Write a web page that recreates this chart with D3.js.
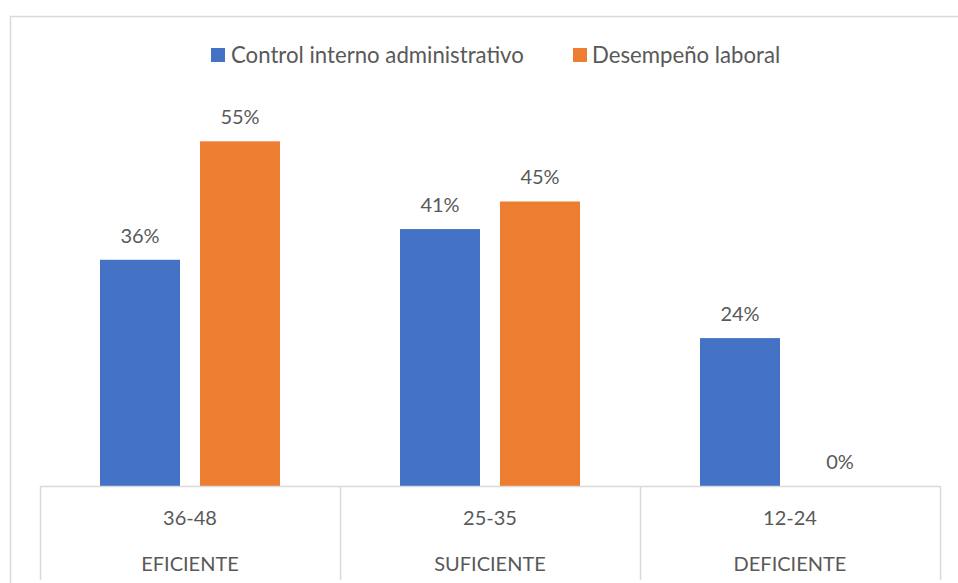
<!DOCTYPE html>
<html><head><meta charset="utf-8">
<script src="https://cdn.jsdelivr.net/npm/d3@7"></script>
<style>body{margin:0;background:#fff}svg{display:block}text{font-family:Lato,"Open Sans",sans-serif;fill:#595959}</style>
</head><body>
<svg id="c" width="958" height="583"></svg>
<script>
const ranges = ["36-48", "25-35", "12-24"];
const levels = ["EFICIENTE", "SUFICIENTE", "DEFICIENTE"];
const seriesNames = ["Control interno administrativo", "Desempeño laboral"];
const controlInterno = [36.1, 41, 23.6];
const desempeno = [55, 45.4, 0];
const colors = ["#4472C4", "#ED7D31"];

const svg = d3.select("#c");
const fs = 20;
// outer border
svg.append("rect").attr("x", 10.5).attr("y", 16.5).attr("width", 1000).attr("height", 1000)
  .attr("fill", "none").attr("stroke", "#D9D9D9").attr("stroke-width", 1.5);

const x0 = d3.scaleBand().domain(ranges).range([40, 940]).paddingInner(0).paddingOuter(0);
const x1 = d3.scaleBand().domain([0, 1]).range([60, 240]).paddingInner(0.2);
const y = d3.scaleLinear().domain([0, 60]).range([486, 110]);

const data = ranges.map((r, i) => ({r, vals: [controlInterno[i], desempeno[i]]}));
const g = svg.selectAll("g.cat").data(data).join("g").attr("class", "cat")
  .attr("transform", d => `translate(${x0(d.r)},0)`);
g.selectAll("rect").data(d => d.vals).join("rect")
  .attr("x", (v, j) => x1(j)).attr("width", x1.bandwidth())
  .attr("y", v => y(v)).attr("height", v => y(0) - y(v))
  .attr("fill", (v, j) => colors[j]);
g.selectAll("text.lbl").data(d => d.vals).join("text").attr("class", "lbl")
  .attr("x", (v, j) => x1(j) + x1.bandwidth() / 2).attr("y", v => y(v) - 17)
  .attr("text-anchor", "middle").attr("font-size", fs).text(v => Math.round(v) + "%");

// axis table
const lc = "#D9D9D9";
svg.append("line").attr("x1", 40).attr("x2", 940).attr("y1", 486.5).attr("y2", 486.5).attr("stroke", lc).attr("stroke-width", 1.5);
[...ranges.map(r => x0(r)), 940].forEach(xx => {
  svg.append("line").attr("x1", xx + 0.5).attr("x2", xx + 0.5).attr("y1", 486).attr("y2", 580).attr("stroke", lc).attr("stroke-width", 1.5);
});
ranges.forEach((r, i) => {
  const cx = x0(r) + x0.bandwidth() / 2;
  svg.append("text").attr("x", cx).attr("y", 525).attr("text-anchor", "middle").attr("font-size", fs).text(r);
  svg.append("text").attr("x", cx).attr("y", 571).attr("text-anchor", "middle").attr("font-size", fs).text(levels[i]);
});

// legend
const leg = [{x: 211, tx: 231}, {x: 573, tx: 592}];
seriesNames.forEach((n, i) => {
  svg.append("rect").attr("x", leg[i].x).attr("y", 48).attr("width", 14).attr("height", 14).attr("fill", colors[i]);
  svg.append("text").attr("x", leg[i].tx).attr("y", 62.5).attr("font-size", 22.2).text(n);
});
</script>
</body></html>
